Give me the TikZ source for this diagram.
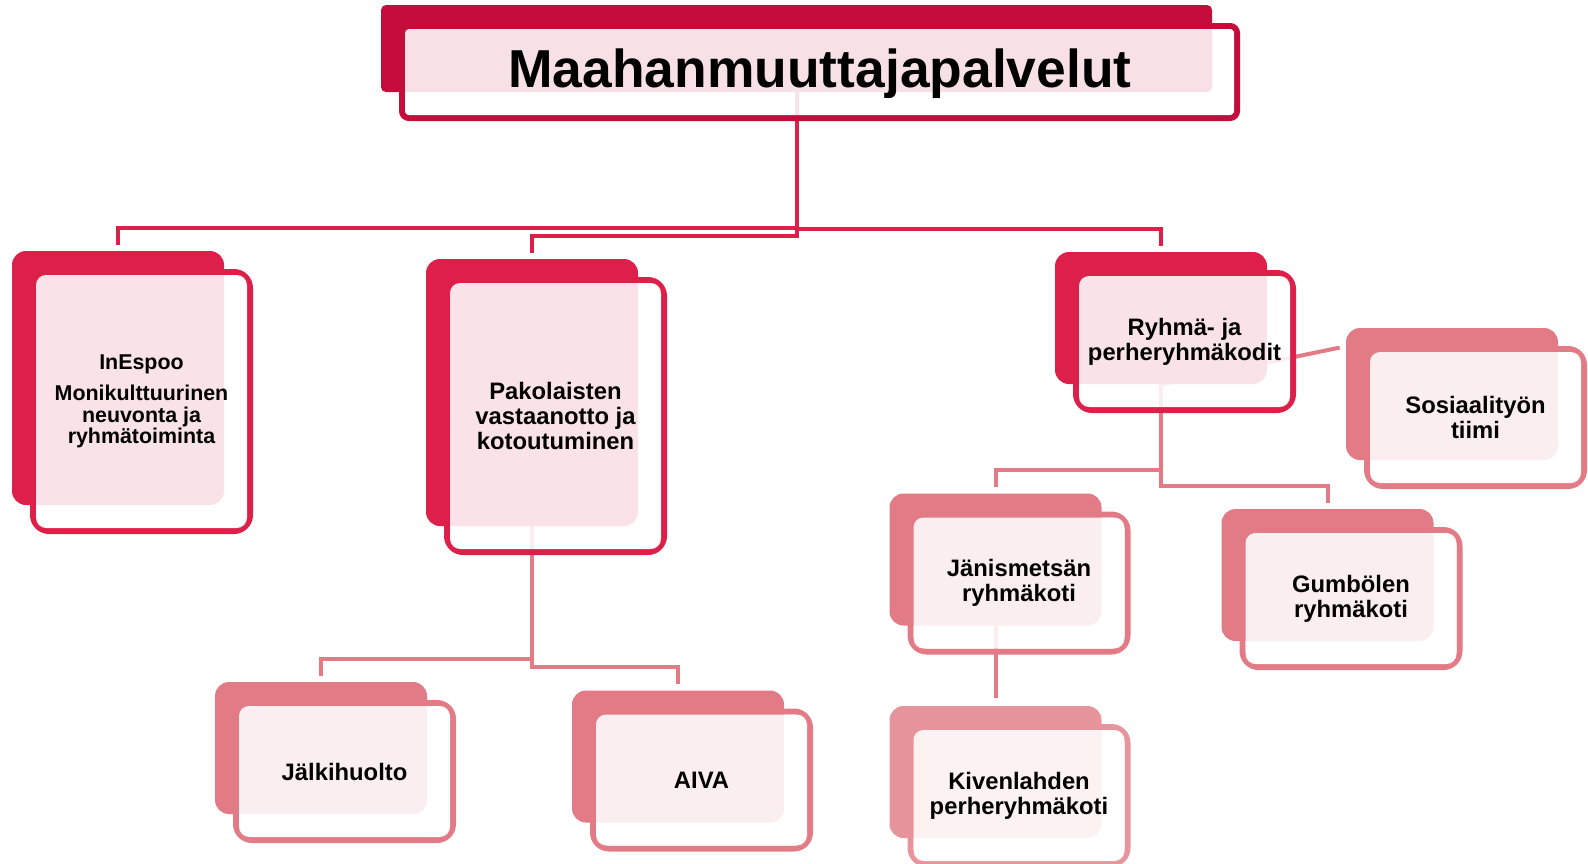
\documentclass[tikz,border=0pt]{standalone}
\usepackage{fontspec}
\setmainfont{Liberation Sans}
\usepackage{xcolor}
\usetikzlibrary{positioning}
\definecolor{topred}{HTML}{C50D3B}
\definecolor{midred}{HTML}{DD2049}
\definecolor{lowred}{HTML}{E37B86}
\definecolor{palered}{HTML}{E7959C}
\pgfdeclarelayer{bg}
\pgfsetlayers{bg,main}
\tikzset{
  card/.style={fill=#1, rounded corners=7pt, inner sep=0pt, minimum width=106pt, minimum height=66pt},
  rim/.style={draw=#1, line width=3pt, rounded corners=8pt, inner sep=0pt, minimum width=108.5pt, minimum height=68.5pt},
  veil/.style={fill=white, fill opacity=0.88, text opacity=1, rounded corners=5pt, inner sep=0pt,
    minimum width=105.5pt, minimum height=65.5pt, align=center, font=\bfseries\fontsize{11.9}{12.4}\selectfont},
  link/.style={draw=#1, line width=2pt}
}

\begin{document}
\begin{tikzpicture}[x=0.5pt, y=-0.5pt]
\useasboundingbox (0,0) rectangle (1588,863);
% top
\node[rim=topred, rounded corners=3.5pt, minimum width=417.5pt, minimum height=46pt] (tit-r) at (819.5,72) {};
\node[card=topred, rounded corners=2.5pt, minimum width=415.5pt, minimum height=43.5pt] (tit-b) at (796.5,48.5) {};
\node[veil, rounded corners=2pt, minimum width=414.5pt, minimum height=43pt] (tit) at (819.5,72) {};
\node[font=\bfseries\fontsize{26.7}{28}\selectfont, inner sep=0pt] (tit-t) at (820,74) {Maahanmuuttajapalvelut};
% first row
\node[rim=midred, minimum height=129.5pt] (ins-r) at (141.5,401.5) {};
\node[card=midred, minimum height=127pt] (ins-b) at (118,378) {};
\node[veil, minimum height=126.5pt, font=\bfseries\fontsize{10.7}{10.9}\selectfont] (ins) at (141.5,401.5) {InEspoo\\[4.6pt]Monikulttuurinen\\neuvonta ja\\ryhmätoiminta};
\node[rim=midred, minimum height=136pt] (pak-r) at (555.5,416) {};
\node[card=midred, minimum height=133.5pt] (pak-b) at (532,392.5) {};
\node[veil, minimum height=133pt] (pak) at (555.5,416) {Pakolaisten\\vastaanotto ja\\kotoutuminen};
\node[rim=midred] (ryh-r) at (1184.5,341.5) {};
\node[card=midred] (ryh-b) at (1161,318) {};
\node[veil] (ryh) at (1184.5,341.5) {Ryhmä- ja\\perheryhmäkodit};
% second row
\node[rim=lowred] (sos-r) at (1475.5,417.5) {};
\node[card=lowred] (sos-b) at (1452,394) {};
\node[veil] (sos) at (1475.5,417.5) {Sosiaalityön\\tiimi};
\node[rim=lowred] (jan-r) at (1019,583) {};
\node[card=lowred] (jan-b) at (995.5,559.5) {};
\node[veil] (jan) at (1019,583) {Jänismetsän\\ryhmäkoti};
\node[rim=lowred] (gum-r) at (1351,598.5) {};
\node[card=lowred] (gum-b) at (1327.5,575) {};
\node[veil] (gum) at (1351,598.5) {Gumbölen\\ryhmäkoti};
\node[rim=lowred] (jal-r) at (344.5,771.5) {};
\node[card=lowred] (jal-b) at (321,748) {};
\node[veil] (jal) at (344.5,771.5) {Jälkihuolto};
\node[rim=lowred] (aiva-r) at (701.5,780) {};
\node[card=lowred] (aiva-b) at (678,756.5) {};
\node[veil] (aiva) at (701.5,780) {AIVA};
% third row
\node[rim=palered] (kiv-r) at (1019,795.5) {};
\node[card=palered] (kiv-b) at (995.5,772) {};
\node[veil] (kiv) at (1019,795.5) {Kivenlahden\\perheryhmäkoti};
% connectors behind
\begin{pgfonlayer}{bg}
\draw[link=midred] (tit-b.south) |- ([yshift=11.5pt]ins-b.north) -- ([yshift=3pt]ins-b.north);
\draw[link=midred] (tit-b.south) |- ([yshift=11.5pt]pak-b.north) -- ([yshift=3pt]pak-b.north);
\draw[link=midred] (tit-b.south) |- ([yshift=11.5pt]ryh-b.north) -- ([yshift=3pt]ryh-b.north);
\draw[link=lowred] (pak-b.south) |- ([yshift=11.5pt]jal-b.north) -- ([yshift=3pt]jal-b.north);
\draw[link=lowred] (pak-b.south) |- ([yshift=11.5pt]aiva-b.north) -- ([yshift=3pt]aiva-b.north);
\draw[link=lowred] (ryh-b.south) |- ([yshift=11.5pt]jan-b.north) -- ([yshift=3pt]jan-b.north);
\draw[link=lowred] (ryh-b.south) |- ([yshift=11.5pt]gum-b.north) -- ([yshift=3pt]gum-b.north);
\draw[link=lowred] (ryh-b.south) -- ([xshift=-3pt,yshift=-10pt]sos-b.north west);
\draw[link=lowred] (jan-b.south) -- ([yshift=4pt]kiv-b.north);
\end{pgfonlayer}
\end{tikzpicture}
\end{document}
